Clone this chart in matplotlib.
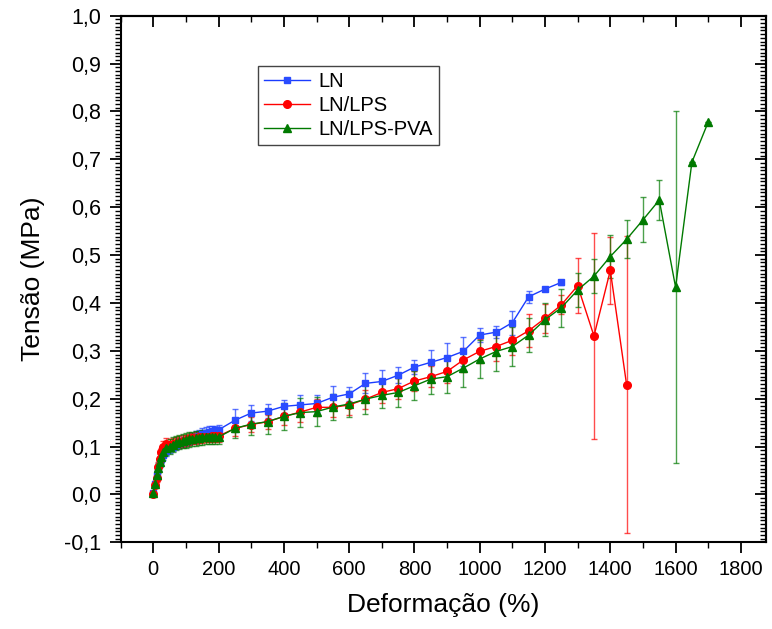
import numpy as np
import matplotlib
matplotlib.use("Agg")
import matplotlib.pyplot as plt
from matplotlib.ticker import MultipleLocator, FuncFormatter

plt.rcParams['font.family'] = ['Liberation Sans', 'DejaVu Sans']

# strain (%) sampling
x_dense = [0, 5, 10, 15, 20, 25, 30, 40, 50, 60, 70, 80, 90, 100, 110, 120,
           130, 140, 150, 160, 170, 180, 190, 200]
x_ln = x_dense + list(range(250, 1251, 50))
x_lps = x_dense + list(range(250, 1451, 50))
x_pva = x_dense + list(range(250, 1701, 50))

# LN
y_ln = [0.003, 0.022, 0.040, 0.055, 0.066, 0.075, 0.083, 0.090, 0.096, 0.100,
        0.104, 0.107, 0.109, 0.111, 0.114, 0.117, 0.120, 0.123, 0.126, 0.128,
        0.130, 0.132, 0.134, 0.135,
        0.155, 0.170, 0.174, 0.184, 0.187, 0.190, 0.203, 0.210, 0.232, 0.236,
        0.249, 0.266, 0.276, 0.286, 0.299, 0.333, 0.339, 0.359, 0.413, 0.429,
        0.443]
e_ln = [0.004, 0.006, 0.008, 0.008, 0.008, 0.008, 0.010, 0.010, 0.010, 0.010,
        0.010, 0.010, 0.010, 0.010, 0.010, 0.012, 0.012, 0.012, 0.012, 0.012,
        0.012, 0.012, 0.010, 0.010,
        0.024, 0.017, 0.015, 0.014, 0.020, 0.018, 0.023, 0.015, 0.021, 0.024,
        0.017, 0.014, 0.025, 0.030, 0.030, 0.015, 0.012, 0.025, 0.013, 0.005,
        0.005]

# LN/LPS
y_lps = [0.000, 0.020, 0.035, 0.058, 0.075, 0.088, 0.100, 0.105, 0.104, 0.106,
         0.108, 0.110, 0.112, 0.113, 0.115, 0.117, 0.118, 0.119, 0.120, 0.121,
         0.121, 0.122, 0.122, 0.122,
         0.138, 0.146, 0.152, 0.163, 0.172, 0.182, 0.182, 0.187, 0.199, 0.213,
         0.221, 0.237, 0.246, 0.257, 0.281, 0.299, 0.309, 0.322, 0.342, 0.368,
         0.396, 0.436, 0.331, 0.468, 0.229]
e_lps = [0.004, 0.006, 0.008, 0.010, 0.010, 0.010, 0.012, 0.012, 0.012, 0.012,
         0.012, 0.012, 0.012, 0.012, 0.012, 0.012, 0.012, 0.012, 0.012, 0.012,
         0.012, 0.012, 0.012, 0.012,
         0.015, 0.015, 0.015, 0.018, 0.020, 0.018, 0.020, 0.020, 0.020, 0.022,
         0.022, 0.020, 0.022, 0.025, 0.025, 0.025, 0.030, 0.030, 0.035, 0.030,
         0.020, 0.058, 0.215, 0.070, 0.310]

# LN/LPS-PVA
y_pva = [0.003, 0.022, 0.040, 0.055, 0.068, 0.078, 0.088, 0.097, 0.100, 0.104,
         0.107, 0.109, 0.111, 0.113, 0.115, 0.116, 0.117, 0.118, 0.119, 0.120,
         0.120, 0.120, 0.120, 0.120,
         0.138, 0.147, 0.152, 0.163, 0.171, 0.173, 0.1825, 0.189, 0.199, 0.207,
         0.213, 0.227, 0.241, 0.246, 0.264, 0.283, 0.2986, 0.309, 0.333, 0.365,
         0.390, 0.427, 0.456, 0.497, 0.533, 0.5735, 0.615, 0.433, 0.694, 0.778]
e_pva = [0.004, 0.006, 0.008, 0.010, 0.010, 0.012, 0.012, 0.015, 0.015, 0.015,
         0.015, 0.015, 0.015, 0.015, 0.015, 0.015, 0.015, 0.015, 0.015, 0.015,
         0.015, 0.015, 0.015, 0.015,
         0.020, 0.022, 0.025, 0.028, 0.030, 0.030, 0.028, 0.028, 0.030, 0.027,
         0.030, 0.030, 0.032, 0.035, 0.040, 0.040, 0.040, 0.040, 0.035, 0.035,
         0.040, 0.035, 0.035, 0.045, 0.040, 0.047, 0.041, 0.367, 0.0, 0.0]

series = [
    ("LN", x_ln, y_ln, e_ln, "#1a3cff", "#2a4cff", "s", 5),
    ("LN/LPS", x_lps, y_lps, e_lps, "#ff0000", "#ff0000", "o", 5.5),
    ("LN/LPS-PVA", x_pva, y_pva, e_pva, "#007a00", "#007a00", "^", 6),
]

fig = plt.figure(figsize=(7.72, 6.29), dpi=100)
ax = fig.add_axes([0.1563, 0.1378, 0.8355, 0.8372])

for label, x, y, e, lc, mc, mk, ms in series:
    ax.errorbar(x, y, yerr=e, fmt='none', ecolor=lc, elinewidth=1.0,
                capsize=2.5, capthick=1.0, alpha=0.7, zorder=2)
    ax.plot(x, y, color=lc, lw=1.0, marker=mk, ms=ms, mfc=mc, mec=mc,
            label=label, zorder=3)

ax.set_xlim(-100, 1876)
ax.set_ylim(-0.1, 1.0)
ax.xaxis.set_major_locator(MultipleLocator(200))
ax.xaxis.set_minor_locator(MultipleLocator(100))
ax.yaxis.set_major_locator(MultipleLocator(0.1))
ax.yaxis.set_minor_locator(MultipleLocator(0.1 / 13))
ax.yaxis.set_major_formatter(FuncFormatter(
    lambda v, p: f"{v:.1f}".replace('.', ',').replace('-0,0', '0,0')))

ax.tick_params(which='major', direction='out', length=8, width=1.3, pad=5)
ax.tick_params(which='minor', direction='out', length=4.5, width=1.0)
ax.tick_params(axis='x', labelsize=14.5)
ax.tick_params(axis='y', labelsize=15.5, pad=6)

top = ax.secondary_xaxis('top')
top.xaxis.set_major_locator(MultipleLocator(200))
top.xaxis.set_minor_locator(MultipleLocator(100))
top.tick_params(which='major', direction='in', length=8, width=1.3, labeltop=False)
top.tick_params(which='minor', direction='in', length=4, width=1.0)

right = ax.secondary_yaxis('right')
right.yaxis.set_major_locator(MultipleLocator(0.1))
right.yaxis.set_minor_locator(MultipleLocator(0.1 / 13))
right.tick_params(which='major', direction='in', length=8, width=1.3, labelright=False)
right.tick_params(which='minor', direction='in', length=4, width=1.0)

for sp in ax.spines.values():
    sp.set_linewidth(1.5)
top.spines['top'].set_linewidth(1.5)
right.spines['right'].set_linewidth(1.5)

ax.set_xlabel('Deformação (%)', fontsize=19, labelpad=10)
ax.set_ylabel('Tensão (MPa)', fontsize=19, labelpad=14)

leg = ax.legend(loc='upper left', bbox_to_anchor=(0.213, 0.905),
                borderaxespad=0, fontsize=14.5, fancybox=False,
                edgecolor='#444444', framealpha=1, handlelength=2.3,
                handletextpad=0.4, labelspacing=0.25, borderpad=0.3)
leg.get_frame().set_linewidth(1.0)

fig.savefig('out.png', dpi=100)
